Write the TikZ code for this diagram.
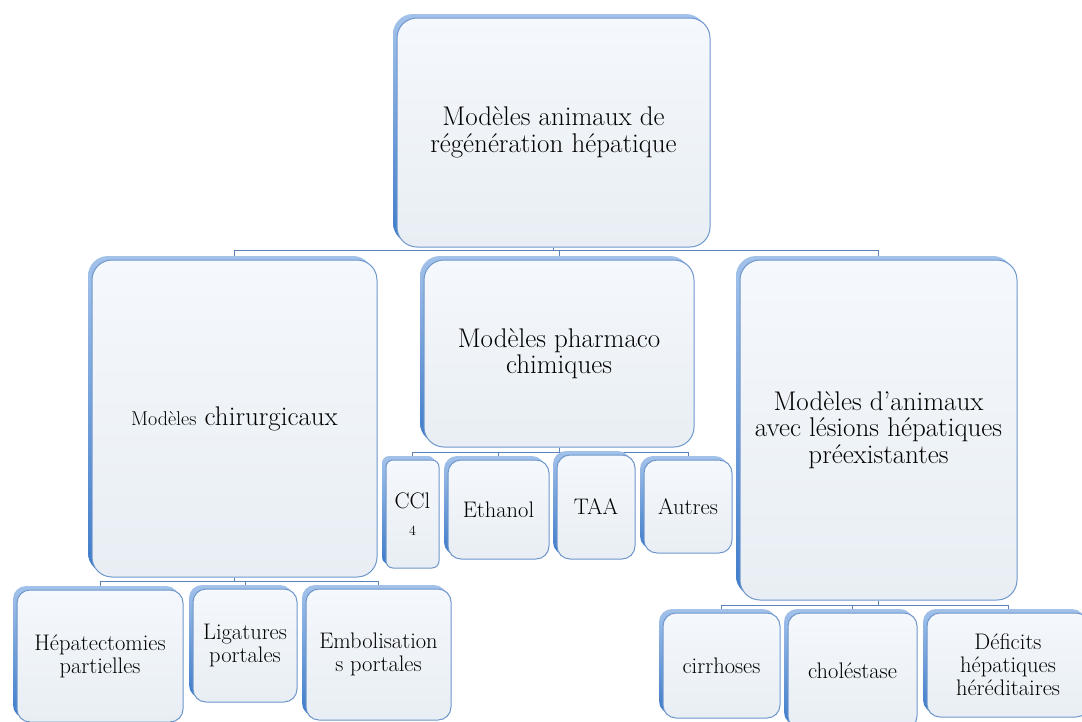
\documentclass[tikz,border=0pt]{standalone}
\usetikzlibrary{shadows,backgrounds}
\definecolor{edge}{HTML}{6F97CC}
\definecolor{faceT}{HTML}{F5F8FD}
\definecolor{faceB}{HTML}{E8EEF3}
\definecolor{shT}{HTML}{A3C2EA}
\definecolor{shB}{HTML}{3E7BC9}
\definecolor{linec}{HTML}{5A82B6}
\begin{document}
\begin{tikzpicture}[x=1pt,y=-1pt,
  box/.style={draw=edge, line width=1pt, rounded corners=20pt,
    top color=faceT, bottom color=faceB, inner sep=0pt, align=center,
    font=\fontsize{27}{26.5}\selectfont,
    general shadow={shadow xshift=-4pt, shadow yshift=4pt, top color=shT, bottom color=shB, draw=none}},
  sbox/.style={box, rounded corners=13pt, font=\fontsize{22.5}{23}\selectfont},
  conn/.style={draw=linec, line width=1pt}]
\useasboundingbox (0,0) rectangle (1082,721);
\begin{scope}[on background layer]
  \fill[white] (0,0) rectangle (1082,721);
\end{scope}
\clip (0,0) rectangle (1082,721);

\node[box, minimum width=313pt, minimum height=229pt] (top) at (553.5,132.5) {Modèles animaux de\\[0.5pt]régénération hépatique};
\node[box, minimum width=285pt, minimum height=317pt] (chir) at (234.5,418.5) {{\fontsize{20}{22}\selectfont Modèles} chirurgicaux};
\node[box, minimum width=270pt, minimum height=187pt] (phar) at (559,353.5) {Modèles pharmaco\\chimiques};
\node[box, minimum width=277pt, minimum height=340pt] (pre) at (878.5,430) {Modèles d’animaux\\avec lésions hépatiques\\préexistantes};

\node[sbox, minimum width=166pt, minimum height=132pt] (hep) at (100,656) {Hépatectomies\\partielles};
\node[sbox, minimum width=104pt, minimum height=113pt] (lig) at (245,645.5) {Ligatures\\portales};
\node[sbox, minimum width=145pt, minimum height=131pt] (emb) at (378.5,654.5) {Embolisation\\s portales};

\node[sbox, rounded corners=7pt, minimum width=53pt, minimum height=108pt] (ccl) at (412.5,514) {CCl\\[4pt]{\fontsize{14}{15}\selectfont 4}};
\node[sbox, minimum width=101pt, minimum height=99pt] (eth) at (498.5,509.5) {Ethanol};
\node[sbox, minimum width=78pt, minimum height=104pt] (taa) at (596,507) {TAA};
\node[sbox, minimum width=88pt, minimum height=93pt] (aut) at (688,506.5) {Autres};

\node[sbox, minimum width=117pt, minimum height=105pt] (cir) at (721.5,665.5) {cirrhoses};
\node[sbox, minimum width=129pt, minimum height=116pt] (cho) at (852.5,671) {choléstase};
\node[sbox, minimum width=162pt, minimum height=104pt] (def) at (1008,665) {Déficits\\hépatiques\\héréditaires};

\begin{scope}[on background layer]
  \path (top.south) ++(0,3) coordinate (bus0);
  \draw[conn] (top.south) -- (bus0);
  \foreach \c in {chir,phar,pre} \draw[conn] (bus0) -| (\c.north);
  \path (chir.south) ++(0,4) coordinate (bus1);
  \draw[conn] (chir.south) -- (bus1);
  \foreach \c in {hep,lig,emb} \draw[conn] (bus1) -| (\c.north);
  \path (phar.south) ++(0,5) coordinate (bus2);
  \draw[conn] (phar.south) -- (bus2);
  \foreach \c in {ccl,eth,taa,aut} \draw[conn] (bus2) -| (\c.north);
  \path (pre.south) ++(0,5) coordinate (bus3);
  \draw[conn] (pre.south) -- (bus3);
  \foreach \c in {cir,cho,def} \draw[conn] (bus3) -| (\c.north);
\end{scope}
\end{tikzpicture}
\end{document}
